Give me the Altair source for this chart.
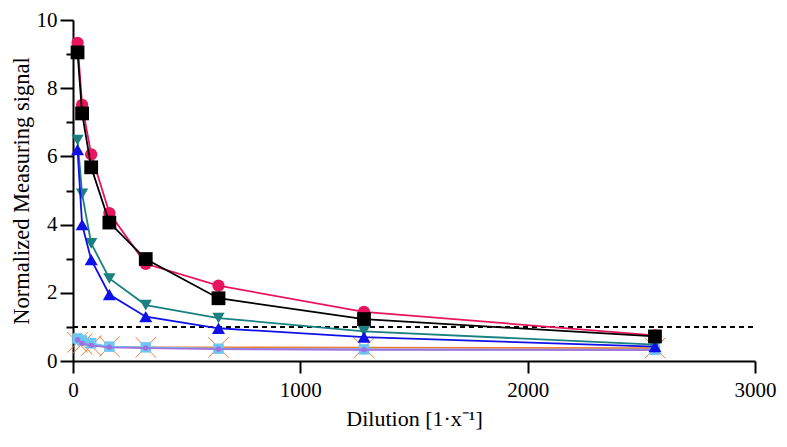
import altair as alt
import pandas as pd

# Dilution factors (x) and normalized measuring signal per series (y)
dilution = [20, 40, 80, 160, 320, 640, 1280, 2560]
series_red = [9.33, 7.51, 6.06, 4.34, 2.85, 2.21, 1.44, 0.75]
series_black = [9.05, 7.26, 5.68, 4.06, 2.99, 1.84, 1.23, 0.72]
series_teal = [6.48, 4.90, 3.45, 2.42, 1.64, 1.26, 0.87, 0.48]
series_blue = [6.20, 4.00, 2.97, 1.95, 1.30, 0.96, 0.70, 0.42]
series_orange = [0.55, 0.50, 0.45, 0.42, 0.40, 0.40, 0.39, 0.38]
series_lightblue = [0.66, 0.60, 0.52, 0.42, 0.40, 0.36, 0.34, 0.33]
series_purple = [0.62, 0.52, 0.46, 0.40, 0.38, 0.35, 0.33, 0.32]
threshold = 1.0

x_ticks = [0, 1000, 2000, 3000]
y_ticks = list(range(0, 11))

FONT = "Liberation Serif"
X_SHAPE = "M-1,-1L1,1M1,-1L-1,1"

styles = [
    ("orange", series_orange, "#F07A32", X_SHAPE, 420, False, 1.0),
    ("lightblue", series_lightblue, "#6CC8F2", "square", 110, True, 1.0),
    ("purple", series_purple, "#A070E0", "circle", 30, True, 1.0),
    ("teal", series_teal, "#1A8080", "triangle-down", 150, True, 1.0),
    ("blue", series_blue, "#1010E8", "triangle-up", 170, True, 1.0),
    ("red", series_red, "#E8155E", "circle", 150, True, 1.0),
    ("black", series_black, "#000000", "square", 190, True, 1.0),
]

xscale = alt.Scale(domain=[0, 3000], nice=False, zero=False)
yscale = alt.Scale(domain=[0, 10], nice=False)

xaxis = alt.Axis(values=x_ticks, format="d", title="Dilution [1·x⁻¹]", grid=False,
                 labelFont=FONT, labelFontSize=21, titleFont=FONT, titleFontSize=22,
                 titleFontWeight="normal", labelColor="black", titleColor="black",
                 domainColor="black", domainWidth=2, tickColor="black", tickWidth=2,
                 tickSize=12, labelPadding=6, titlePadding=8, labelFlush=False)
yaxis = alt.Axis(values=y_ticks, format="d", title="Normalized Measuring signal", grid=False,
                 labelExpr="datum.value % 2 == 0 ? datum.label : ''",
                 labelFont=FONT, labelFontSize=21, titleFont=FONT, titleFontSize=22.5,
                 titleFontWeight="normal", labelColor="black", titleColor="black",
                 domainColor="black", domainWidth=2, tickColor="black", tickWidth=2,
                 tickSize={"condition": {"test": "datum.value % 2 == 0", "value": 13}, "value": 7},
                 labelPadding=3, titlePadding=3, labelFlush=False)

layers = []
rule = alt.Chart(pd.DataFrame({"a": [0]})).mark_rule(
    color="black", strokeWidth=2, strokeDash=[5, 4]
).encode(
    x=alt.X("x0:Q", scale=xscale, axis=xaxis),
    x2="x1:Q",
    y=alt.Y("yv:Q", scale=yscale, axis=yaxis),
).transform_calculate(x0="0", x1="3000", yv=str(threshold))
layers.append(rule)

for name, vals, color, shape, size, filled, sw in styles:
    df = pd.DataFrame({"dilution": dilution, "value": vals})
    base = alt.Chart(df).encode(
        x=alt.X("dilution:Q", scale=xscale, axis=xaxis),
        y=alt.Y("value:Q", scale=yscale, axis=yaxis),
    )
    line = base.mark_line(color=color, strokeWidth=1.8)
    if filled:
        pts = base.mark_point(shape=shape, size=size, filled=True, color=color, opacity=1)
    else:
        pts = base.mark_point(shape=shape, size=size, filled=False, color=color,
                              strokeWidth=sw, opacity=1)
    layers.append(line)
    layers.append(pts)

chart = alt.layer(*layers).properties(
    width=682, height=341,
    autosize=alt.AutoSizeParams(type="none"),
    padding={"left": 65, "top": 12, "right": 24, "bottom": 78},
).configure_view(stroke=None)

chart.save("out.html", embed_options={"renderer": "svg", "actions": False})
